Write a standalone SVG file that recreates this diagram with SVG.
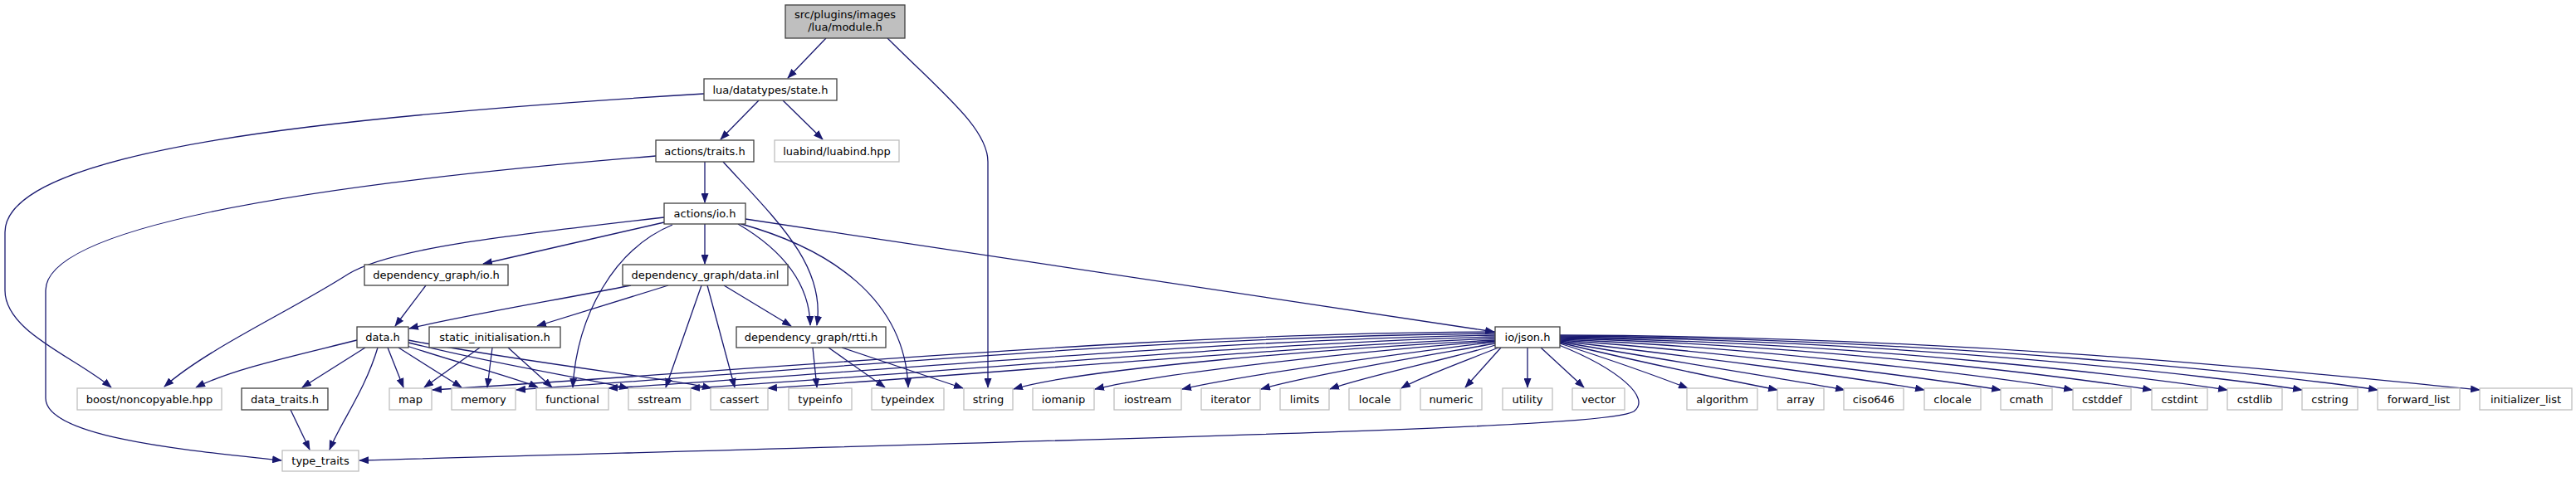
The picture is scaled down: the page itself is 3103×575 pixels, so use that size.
<svg xmlns="http://www.w3.org/2000/svg" width="3103" height="575" viewBox="0 0 3103 575">
<style>
.n rect{fill:#fff;stroke:#404040;stroke-width:1.3}
.x rect{fill:#fff;stroke:#bfbfbf;stroke-width:1.3}
.r rect{fill:#bfbfbf;stroke:#404040;stroke-width:1.3}
text{font-family:"DejaVu Sans","Liberation Sans",sans-serif;font-size:13px;fill:#000;text-anchor:middle}
#edges path{fill:none;stroke:#191970;stroke-width:1.3;marker-end:url(#a)}
</style>
<defs>
<marker id="a" markerWidth="12" markerHeight="9" refX="11" refY="4.5" orient="auto" markerUnits="userSpaceOnUse"><path d="M0,0L12,4.5L0,9z" fill="#191970"/></marker>
</defs>
<rect width="3103" height="575" fill="#fff"/>
<g id="edges">
<path d="M995,46 L949,94"/>
<path d="M1069,46 C1135,112 1190,155 1190,195 L1190,467"/>
<path d="M848,113 C400,140 6,180 6,280 L6,350 C6,400 90,430 134,467"/>
<path d="M914,121 L868,168"/>
<path d="M943,121 L991,168"/>
<path d="M790,188 C400,220 55,270 55,350 L55,480 C55,530 250,545 339,555"/>
<path d="M849,195 L849,244"/>
<path d="M871,195 C935,265 995,320 984,392"/>
<path d="M800,262 C600,285 470,300 420,330 C350,375 250,420 198,466"/>
<path d="M800,268 L582,318"/>
<path d="M810,271 C740,300 695,380 690,467"/>
<path d="M849,270 L849,318"/>
<path d="M889,270 C940,300 975,340 976,392"/>
<path d="M893,270 C1000,300 1090,360 1094,467"/>
<path d="M898,264 L1800,400"/>
<path d="M513,344 L476,393"/>
<path d="M760,344 C680,360 560,380 493,396"/>
<path d="M805,344 L647,393"/>
<path d="M845,344 L802,467"/>
<path d="M852,344 L885,467"/>
<path d="M872,344 L953,393"/>
<path d="M430,410 C350,430 280,445 236,467"/>
<path d="M440,419 L364,467"/>
<path d="M455,419 C440,470 410,510 397,542"/>
<path d="M350,494 L373,542"/>
<path d="M467,419 L486,467"/>
<path d="M480,419 L556,467"/>
<path d="M490,417 C560,440 620,455 648,467"/>
<path d="M492,413 C600,440 700,455 757,468"/>
<path d="M492,410 C650,440 800,455 857,468"/>
<path d="M578,419 L511,467"/>
<path d="M593,419 L587,467"/>
<path d="M612,419 L665,467"/>
<path d="M979,419 L984,467"/>
<path d="M998,419 L1066,467"/>
<path d="M1014,419 L1160,468"/>
<path d="M1801,400 C1400,401 1000,440 521,470"/>
<path d="M1801,402 C1400,406 1050,440 622,470"/>
<path d="M1801,404 C1450,410 1100,445 733,468"/>
<path d="M1801,406 C1500,414 1150,448 832,468"/>
<path d="M1801,408 C1550,418 1200,450 925,468"/>
<path d="M1801,410 C1600,420 1300,445 1221,469"/>
<path d="M1801,411 C1620,425 1400,450 1319,469"/>
<path d="M1801,412 C1660,430 1500,452 1424,469"/>
<path d="M1801,414 C1700,432 1580,452 1519,469"/>
<path d="M1801,416 C1750,432 1650,452 1602,469"/>
<path d="M1805,419 C1760,437 1710,455 1688,468"/>
<path d="M1808,419 L1765,467"/>
<path d="M1840,419 L1840,467"/>
<path d="M1856,419 L1908,467"/>
<path d="M1879,414 C1950,437 2000,455 2033,468"/>
<path d="M1879,413 C1990,440 2090,460 2141,470"/>
<path d="M1879,412 C2010,435 2160,458 2222,470"/>
<path d="M1879,411 C2040,430 2250,457 2318,470"/>
<path d="M1879,410 C2090,425 2330,457 2410,470"/>
<path d="M1879,409 C2140,420 2420,457 2497,470"/>
<path d="M1879,408 C2200,416 2500,456 2592,470"/>
<path d="M1879,407 C2250,413 2590,456 2683,470"/>
<path d="M1879,406 C2300,410 2680,455 2773,470"/>
<path d="M1879,405 C2350,408 2770,455 2864,470"/>
<path d="M1879,404 C2400,406 2800,452 2987,470"/>
<path d="M1878,416 C1950,445 1990,480 1968,496 C1935,515 1500,525 433,555"/>
</g>
<g id="n_module" class="r"><rect x="946" y="6" width="144" height="40"/><text x="1018" y="22">src/plugins/images</text><text x="1018" y="37">/lua/module.h</text></g>
<g id="n_state" class="n"><rect x="848" y="95" width="160" height="26"/><text x="928" y="112.5">lua/datatypes/state.h</text></g>
<g id="n_traits" class="n"><rect x="790" y="169" width="118" height="26"/><text x="849" y="186.5">actions/traits.h</text></g>
<g id="n_luabind" class="x"><rect x="933" y="169" width="150" height="26"/><text x="1008" y="186.5">luabind/luabind.hpp</text></g>
<g id="n_io" class="n"><rect x="800" y="245" width="98" height="25"/><text x="849" y="262">actions/io.h</text></g>
<g id="n_dgio" class="n"><rect x="439" y="319" width="173" height="25"/><text x="525.5" y="336">dependency_graph/io.h</text></g>
<g id="n_datainl" class="n"><rect x="750" y="319" width="199" height="25"/><text x="849.5" y="336">dependency_graph/data.inl</text></g>
<g id="n_datah" class="n"><rect x="430" y="394" width="62" height="25"/><text x="461" y="411">data.h</text></g>
<g id="n_static" class="n"><rect x="517" y="394" width="158" height="25"/><text x="596" y="411">static_initialisation.h</text></g>
<g id="n_rtti" class="n"><rect x="887" y="394" width="180" height="25"/><text x="977" y="411">dependency_graph/rtti.h</text></g>
<g id="n_json" class="n"><rect x="1801" y="394" width="78" height="25"/><text x="1840" y="411">io/json.h</text></g>
<g id="n_boost" class="x"><rect x="93" y="468" width="174" height="26"/><text x="180" y="485.5">boost/noncopyable.hpp</text></g>
<g id="n_datatraits" class="n"><rect x="291" y="468" width="104" height="26"/><text x="343" y="485.5">data_traits.h</text></g>
<g id="n_map" class="x"><rect x="469" y="468" width="51" height="26"/><text x="494.5" y="485.5">map</text></g>
<g id="n_memory" class="x"><rect x="544" y="468" width="77" height="26"/><text x="582.5" y="485.5">memory</text></g>
<g id="n_functional" class="x"><rect x="646" y="468" width="87" height="26"/><text x="689.5" y="485.5">functional</text></g>
<g id="n_sstream" class="x"><rect x="757" y="468" width="75" height="26"/><text x="794.5" y="485.5">sstream</text></g>
<g id="n_cassert" class="x"><rect x="856" y="468" width="69" height="26"/><text x="890.5" y="485.5">cassert</text></g>
<g id="n_typeinfo" class="x"><rect x="950" y="468" width="76" height="26"/><text x="988" y="485.5">typeinfo</text></g>
<g id="n_typeindex" class="x"><rect x="1050" y="468" width="87" height="26"/><text x="1093.5" y="485.5">typeindex</text></g>
<g id="n_string" class="x"><rect x="1161" y="468" width="59" height="26"/><text x="1190.5" y="485.5">string</text></g>
<g id="n_iomanip" class="x"><rect x="1244" y="468" width="74" height="26"/><text x="1281" y="485.5">iomanip</text></g>
<g id="n_iostream" class="x"><rect x="1342" y="468" width="81" height="26"/><text x="1382.5" y="485.5">iostream</text></g>
<g id="n_iterator" class="x"><rect x="1447" y="468" width="71" height="26"/><text x="1482.5" y="485.5">iterator</text></g>
<g id="n_limits" class="x"><rect x="1542" y="468" width="59" height="26"/><text x="1571.5" y="485.5">limits</text></g>
<g id="n_locale" class="x"><rect x="1625" y="468" width="62" height="26"/><text x="1656" y="485.5">locale</text></g>
<g id="n_numeric" class="x"><rect x="1711" y="468" width="74" height="26"/><text x="1748" y="485.5">numeric</text></g>
<g id="n_utility" class="x"><rect x="1810" y="468" width="60" height="26"/><text x="1840" y="485.5">utility</text></g>
<g id="n_vector" class="x"><rect x="1894" y="468" width="63" height="26"/><text x="1925.5" y="485.5">vector</text></g>
<g id="n_algorithm" class="x"><rect x="2032" y="468" width="85" height="26"/><text x="2074.5" y="485.5">algorithm</text></g>
<g id="n_array" class="x"><rect x="2141" y="468" width="56" height="26"/><text x="2169" y="485.5">array</text></g>
<g id="n_ciso646" class="x"><rect x="2221" y="468" width="72" height="26"/><text x="2257" y="485.5">ciso646</text></g>
<g id="n_clocale" class="x"><rect x="2318" y="468" width="68" height="26"/><text x="2352" y="485.5">clocale</text></g>
<g id="n_cmath" class="x"><rect x="2410" y="468" width="62" height="26"/><text x="2441" y="485.5">cmath</text></g>
<g id="n_cstddef" class="x"><rect x="2497" y="468" width="70" height="26"/><text x="2532" y="485.5">cstddef</text></g>
<g id="n_cstdint" class="x"><rect x="2592" y="468" width="67" height="26"/><text x="2625.5" y="485.5">cstdint</text></g>
<g id="n_cstdlib" class="x"><rect x="2683" y="468" width="66" height="26"/><text x="2716" y="485.5">cstdlib</text></g>
<g id="n_cstring" class="x"><rect x="2773" y="468" width="67" height="26"/><text x="2806.5" y="485.5">cstring</text></g>
<g id="n_forward_list" class="x"><rect x="2864" y="468" width="99" height="26"/><text x="2913.5" y="485.5">forward_list</text></g>
<g id="n_initializer_list" class="x"><rect x="2987" y="468" width="111" height="26"/><text x="3042.5" y="485.5">initializer_list</text></g>
<g id="n_type_traits" class="x"><rect x="340" y="543" width="92" height="25"/><text x="386" y="560">type_traits</text></g>
</svg>
